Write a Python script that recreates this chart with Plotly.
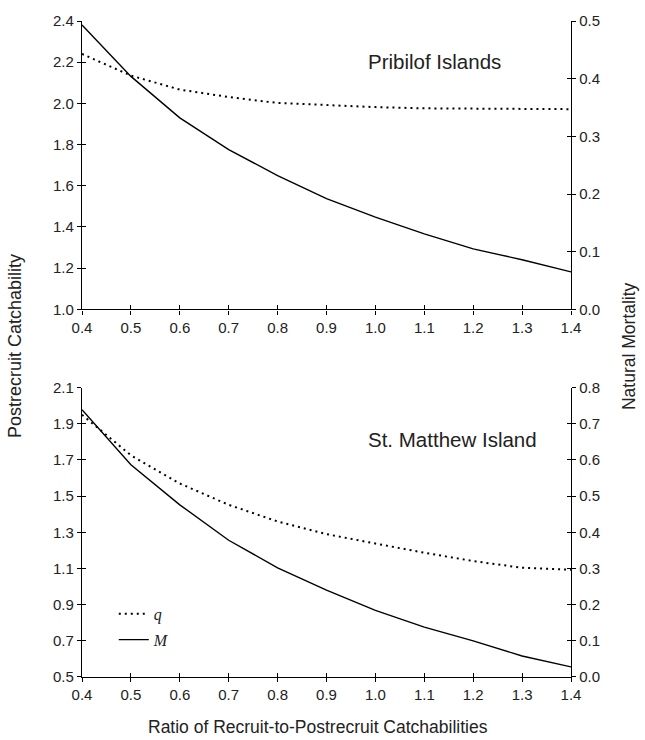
import plotly.graph_objects as go

# Ratio of recruit-to-postrecruit catchabilities
ratio = [0.4, 0.5, 0.6, 0.7, 0.8, 0.9, 1.0, 1.1, 1.2, 1.3, 1.4]

# Pribilof Islands
pribilof_q = [2.24, 2.135, 2.067, 2.031, 2.002, 1.991, 1.982, 1.976, 1.975, 1.973, 1.972]
pribilof_m = [0.493, 0.404, 0.332, 0.277, 0.232, 0.192, 0.160, 0.131, 0.105, 0.086, 0.065]

# St. Matthew Island
stmatthew_q = [1.95, 1.726, 1.570, 1.452, 1.360, 1.290, 1.238, 1.187, 1.141, 1.104, 1.093]
stmatthew_m = [0.739, 0.587, 0.476, 0.378, 0.302, 0.240, 0.184, 0.138, 0.100, 0.058, 0.028]

x_ticks = [0.4, 0.5, 0.6, 0.7, 0.8, 0.9, 1.0, 1.1, 1.2, 1.3, 1.4]
top_q_ticks = [1.0, 1.2, 1.4, 1.6, 1.8, 2.0, 2.2, 2.4]
top_m_ticks = [0.0, 0.1, 0.2, 0.3, 0.4, 0.5]
bot_q_ticks = [0.5, 0.7, 0.9, 1.1, 1.3, 1.5, 1.7, 1.9, 2.1]
bot_m_ticks = [0.0, 0.1, 0.2, 0.3, 0.4, 0.5, 0.6, 0.7, 0.8]

FONT = "Liberation Sans, Arial, sans-serif"
TICK_FONT = dict(family=FONT, size=15, color="#222")
DOT = "2px,4px"

fig = go.Figure()

# Top panel
fig.add_trace(go.Scatter(x=ratio, y=pribilof_q, xaxis="x", yaxis="y", mode="lines",
                         line=dict(color="black", width=2, dash=DOT), showlegend=False))
fig.add_trace(go.Scatter(x=ratio, y=pribilof_m, xaxis="x", yaxis="y2", mode="lines",
                         line=dict(color="black", width=1.4), showlegend=False))
# Bottom panel (carries the legend)
fig.add_trace(go.Scatter(x=ratio, y=stmatthew_q, xaxis="x2", yaxis="y3", mode="lines",
                         name="<i>q</i>", legendgroup="q",
                         line=dict(color="black", width=2, dash=DOT)))
fig.add_trace(go.Scatter(x=ratio, y=stmatthew_m, xaxis="x2", yaxis="y4", mode="lines",
                         name="<i>M</i>", legendgroup="m",
                         line=dict(color="black", width=1.4)))

# Invisible traces on twin subplots that carry the inner halves of the crossing ticks
for xa, ya, yv in [("x3", "y5", 1.0), ("x3", "y6", 0.0), ("x4", "y7", 0.5), ("x4", "y8", 0.0)]:
    fig.add_trace(go.Scatter(x=[0.4], y=[yv], xaxis=xa, yaxis=ya, mode="markers",
                             marker=dict(opacity=0, size=1), showlegend=False, hoverinfo="skip"))

TOP = [0.5604, 1.0]
BOT = [0.0, 0.4411]


def main_axis(**kw):
    d = dict(showline=True, linecolor="black", linewidth=1.3, ticks="outside",
             ticklen=4, tickwidth=1.3, tickcolor="black", showgrid=False,
             zeroline=False, tickfont=TICK_FONT, tickformat=".1f", fixedrange=True)
    d.update(kw)
    return d


def inner_axis(**kw):
    d = dict(showline=False, ticks="inside", ticklen=4, tickwidth=1.3, tickcolor="black",
             showgrid=False, zeroline=False, showticklabels=False, fixedrange=True)
    d.update(kw)
    return d


fig.update_layout(
    width=645, height=740,
    margin=dict(l=82, r=74, t=15, b=63),
    paper_bgcolor="white", plot_bgcolor="rgba(0,0,0,0)",
    font=dict(family=FONT, color="#222"),
    xaxis=main_axis(domain=[0, 1], anchor="y", range=[0.4, 1.4], tickvals=x_ticks),
    xaxis2=main_axis(domain=[0, 1], anchor="y3", range=[0.4, 1.4], tickvals=x_ticks),
    yaxis=main_axis(domain=TOP, anchor="x", range=[1.0, 2.4], tickvals=top_q_ticks),
    yaxis2=main_axis(overlaying="y", side="right", anchor="x", range=[0, 0.5], tickvals=top_m_ticks),
    yaxis3=main_axis(domain=BOT, anchor="x2", range=[0.5, 2.1], tickvals=bot_q_ticks),
    yaxis4=main_axis(overlaying="y3", side="right", anchor="x2", range=[0, 0.8], tickvals=bot_m_ticks),
    # twin axes sharing the same domains, ticks pointing inward
    xaxis3=inner_axis(domain=[0, 1], anchor="y5", range=[0.4, 1.4], tickvals=x_ticks),
    xaxis4=inner_axis(domain=[0, 1], anchor="y7", range=[0.4, 1.4], tickvals=x_ticks),
    yaxis5=inner_axis(domain=TOP, anchor="x3", side="left", range=[1.0, 2.4], tickvals=top_q_ticks),
    yaxis6=inner_axis(overlaying="y5", anchor="x3", side="right", range=[0, 0.5], tickvals=top_m_ticks),
    yaxis7=inner_axis(domain=BOT, anchor="x4", side="left", range=[0.5, 2.1], tickvals=bot_q_ticks),
    yaxis8=inner_axis(overlaying="y7", anchor="x4", side="right", range=[0, 0.8], tickvals=bot_m_ticks),
    legend=dict(x=0.065, y=0.122, xanchor="left", yanchor="top",
                bgcolor="rgba(0,0,0,0)", tracegroupgap=2,
                font=dict(family="Liberation Serif, Times New Roman, serif", size=16, color="#222")),
    showlegend=True,
)

annotations = [
    dict(text="Pribilof Islands", x=0.581, y=0.939, xref="paper", yref="paper",
         xanchor="left", yanchor="middle", showarrow=False, font=dict(size=20.5)),
    dict(text="St. Matthew Island", x=0.581, y=0.3615, xref="paper", yref="paper",
         xanchor="left", yanchor="middle", showarrow=False, font=dict(size=20.5)),
    dict(text="Postrecruit Catchability", x=15, y=343, xref="paper", yref="paper",
         xanchor="center", yanchor="middle",
         textangle=-90, showarrow=False, font=dict(size=18)),
    dict(text="Natural Mortality", x=629, y=343, xref="paper", yref="paper",
         xanchor="center", yanchor="middle",
         textangle=-90, showarrow=False, font=dict(size=17.5)),
    dict(text="Ratio of Recruit-to-Postrecruit Catchabilities", x=318, y=727,
         xref="paper", yref="paper", xanchor="center", yanchor="middle",
         showarrow=False, font=dict(size=17.5)),
]

# Convert pixel positions of the outer titles into paper coordinates
L, R, T, B, W, H = 82, 74, 15, 63, 645, 740
pw, ph = W - L - R, H - T - B
for a in annotations[2:]:
    a["x"] = (a["x"] - L) / pw
    a["y"] = (H - B - a["y"]) / ph
fig.update_layout(annotations=annotations)

fig.write_html("out.html")
